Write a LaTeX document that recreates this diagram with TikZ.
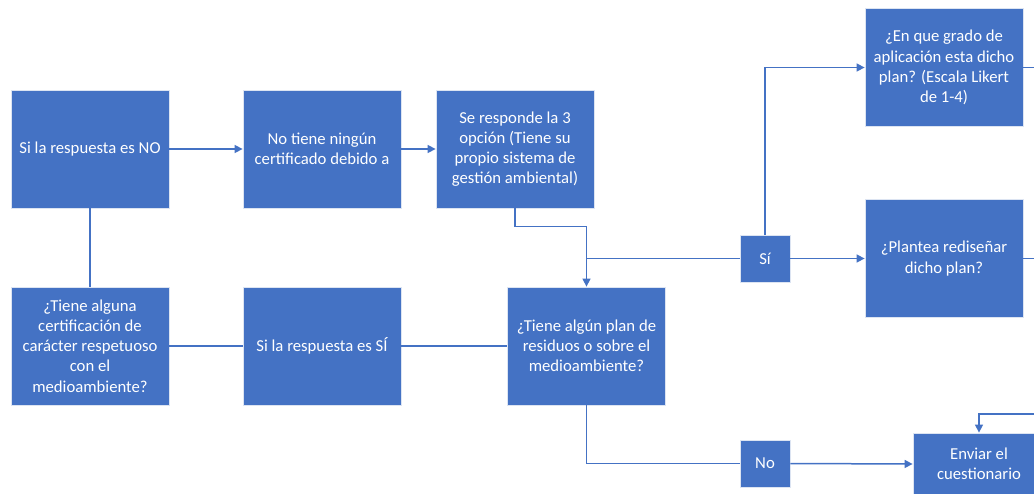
\documentclass[tikz,border=0pt]{standalone}
\usepackage{fontspec}
\setmainfont{Carlito}
\usetikzlibrary{arrows.meta}
\definecolor{obl}{HTML}{4472C4}
\definecolor{bord}{HTML}{DCE4F2}
\tikzset{
  box/.style={rectangle, fill=obl, draw=bord, line width=0.8pt, text=white, align=center,
    minimum width=158pt, minimum height=118pt, inner sep=2pt,
    font=\fontsize{16.7}{20.2}\selectfont},
  small/.style={box, minimum width=50pt, minimum height=47pt},
  conn/.style={draw=obl, line width=1.5pt},
  arr/.style={conn, -{Triangle[length=8pt,width=8pt]}}
}
\begin{document}
\begin{tikzpicture}[x=1pt,y=-1pt]
\useasboundingbox (0,0) rectangle (1034,494);
\begin{scope}
\clip (0,0) rectangle (1034,494);
\node[box] (A) at (90,149) {Si la respuesta es NO};
\node[box] (B) at (322,149) {No tiene ningún\\certificado debido a};
\node[box] (C) at (515,149) {Se responde la 3\\opción (Tiene su\\propio sistema de\\gestión ambiental)};
\node[box] (D) at (90,346) {¿Tiene alguna\\certificación de\\carácter respetuoso\\con el\\medioambiente?};
\node[box] (E) at (322,346) {Si la respuesta es SÍ};
\node[box] (F) at (586.5,346) {¿Tiene algún plan de\\residuos o sobre el\\medioambiente?};
\node[box] (G) at (944,67.5) {¿En que grado de\\aplicación esta dicho\\plan? (Escala Likert\\de 1-4)};
\node[box] (H) at (944,258.5) {¿Plantea rediseñar\\dicho plan?};
\node[small] (S) at (765,258.5) {Sí};
\node[small] (N) at (765,463.5) {No};
\node[box, minimum width=132pt, minimum height=62pt] (I) at (979,464) {Enviar el\\cuestionario};
\coordinate (Gout) at (1040,67.5);
\coordinate (Hout) at (1040,258.5);
\coordinate (Iin) at (1040,414);

\draw[arr] (A.east) -- (B.west);
\draw[arr] (B.east) -- (C.west);
\draw[conn] (A.south) -- (D.north);
\draw[conn] (D.east) -- (E.west);
\draw[conn] (E.east) -- (F.west);
\draw[arr] (C.south) -- ++(0,18) -| (F.north);
\draw[conn] (S.west) -- (F.north |- S.west);
\draw[arr] (S.north) |- (G.west);
\draw[arr] (S.east) -- (H.west);
\draw[conn] (F.south) |- (N.west);
\draw[arr] (N.east) -- (I.west);
\draw[conn] (G.east) -- (Gout);
\draw[conn] (H.east) -- (Hout);
\draw[arr] (Iin) -| (I.north);
\end{scope}
\end{tikzpicture}
\end{document}
